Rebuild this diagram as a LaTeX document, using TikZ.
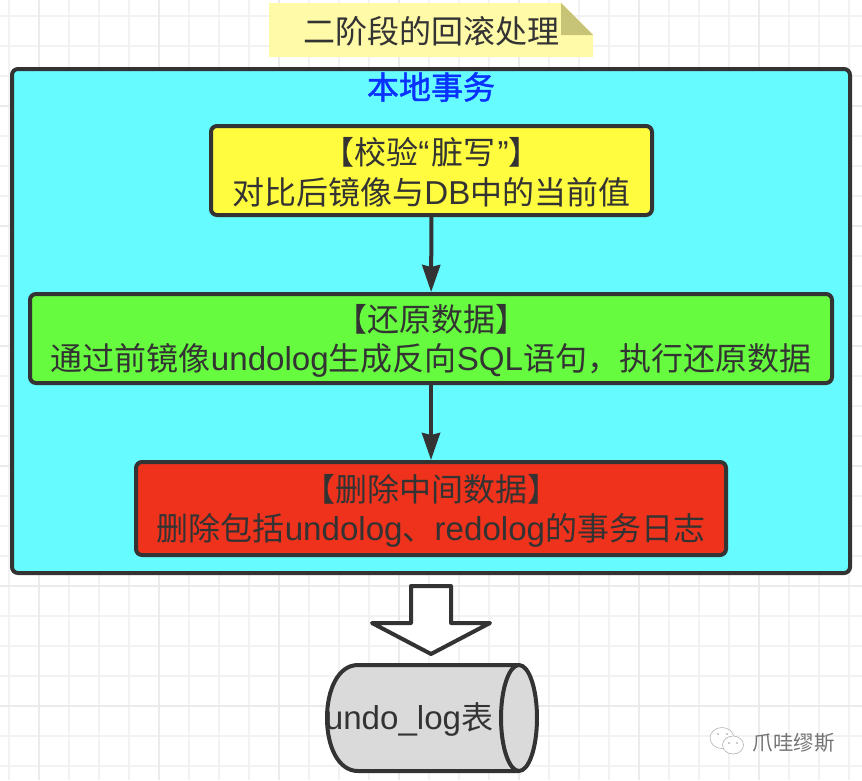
\documentclass[tikz,border=0pt]{standalone}
\usepackage{fontspec}
\usepackage{xcolor}
\setmainfont{Noto Sans CJK SC}
\newfontfamily\latfont[Scale=1.035]{Liberation Sans}
\newcommand{\lat}[1]{{\latfont #1}}
\newcommand{\dropline}[1]{\rule{0pt}{#1}}
\usetikzlibrary{arrows.meta}
\definecolor{ink}{HTML}{333333}
\definecolor{notefill}{HTML}{FFFAA8}
\definecolor{notefold}{HTML}{C8C477}
\definecolor{txcyan}{HTML}{66FBFF}
\definecolor{stepyellow}{HTML}{FFFB3E}
\definecolor{stepgreen}{HTML}{66FB3E}
\definecolor{stepred}{HTML}{EE321B}
\definecolor{tablegray}{HTML}{DADADA}
\definecolor{titleblue}{HTML}{0A32FF}
\begin{document}
\begin{tikzpicture}[
  x=1pt, y=-1pt,
  font=\fontsize{32}{39.5}\selectfont,
  >={Stealth[length=27pt,width=18pt,inset=2pt]},
  stepbox/.style={draw=ink, line width=4pt, rounded corners=6pt, text=ink,
                  align=center, inner sep=0pt, minimum height=#1},
  stepbox/.default=90pt,
  flow/.style={->, line width=4pt, draw=ink},
  outline/.style={draw=ink, line width=4pt, line join=round},
  gridthin/.style={draw=black!5, line width=2pt},
  gridthick/.style={draw=black!8, line width=2pt},
  wechat/.style={draw=black!30, line width=.6pt, fill=white}
]
\useasboundingbox (0,0) rectangle (862,780);
\fill[white] (0,0) rectangle (862,780);
\foreach \gx in {9,69,99,129,189,219,249,309,339,369,429,459,489,549,579,609,669,699,729,789,819,849}
  \draw[gridthin] (\gx,0) -- (\gx,780);
\foreach \gy in {15.5,45.5,75.5,135.5,165.5,195.5,255.5,285.5,315.5,375.5,405.5,435.5,495.5,525.5,555.5,615.5,645.5,675.5,735.5,765.5}
  \draw[gridthin] (0,\gy) -- (862,\gy);
\foreach \gx in {39,159,279,399,519,639,759}
  \draw[gridthick] (\gx,0) -- (\gx,780);
\foreach \gy in {105.5,225.5,345.5,465.5,585.5,705.5}
  \draw[gridthick] (0,\gy) -- (862,\gy);

\fill[notefill] (269,3) -- (561,3) -- (593,35) -- (593,57) -- (269,57) -- cycle;
\fill[notefold] (561,3) -- (593,35) -- (561,35) -- cycle;
\node[text=ink] (notelabel) at (431.5,31) {二阶段的回滚处理};

\node[stepbox=504pt, minimum width=838pt, fill=txcyan] (localtx) at (431,321) {};
\node[text=titleblue, font=\fontsize{32}{40}\selectfont\addfontfeature{FakeBold=1.5}] (txtitle) at (431,87) {本地事务};

\node[stepbox=89pt, minimum width=441pt, fill=stepyellow] (check) at (431.5,170.5)
  {\dropline{31pt}【校验\lat{“\kern2pt}脏写\lat{\kern2pt”}】\\对比后镜像与\lat{DB}中的当前值};
\node[stepbox=89pt, minimum width=802pt, fill=stepgreen] (restore) at (431,338.5)
  {\dropline{32pt}【还原数据】\\通过前镜像\lat{undolog}生成反向\lat{SQL}语句，执行还原数据};
\node[stepbox=93pt, minimum width=590pt, fill=stepred] (purge) at (431,508.5)
  {\dropline{32pt}【删除中间数据】\\删除包括\lat{undolog}、\lat{redolog}的事务日志};
\draw[flow] (check) -- (restore);
\draw[flow] (restore) -- (purge);

\draw[outline, fill=white] (411,586) -- (451,586) -- (451,623) -- (490,623)
  -- (431,654) -- (372,623) -- (411,623) -- cycle;

\draw[outline, fill=tablegray] (519,665) -- (358,665)
  .. controls (338,665) and (327,690) .. (327,718)
  .. controls (327,746) and (338,771) .. (358,771) -- (519,771);
\draw[outline, fill=tablegray] (519,718) ellipse [x radius=18, y radius=53];
\node[text=ink] (tablelabel) at (409,719) {\lat{undo\_log}表};

\draw[wechat] (722,738) ellipse [x radius=12, y radius=10.5];
\draw[wechat] (733,745) ellipse [x radius=10.5, y radius=9];
\foreach \ex/\ey in {718/734,727/734,729/743,737/743}
  \fill[black!40] (\ex,\ey) circle [radius=.9];
\node[text=black!55, font=\fontsize{20.5}{24}\selectfont] (brand) at (793.5,743) {爪哇缪斯};
\end{tikzpicture}
\end{document}
